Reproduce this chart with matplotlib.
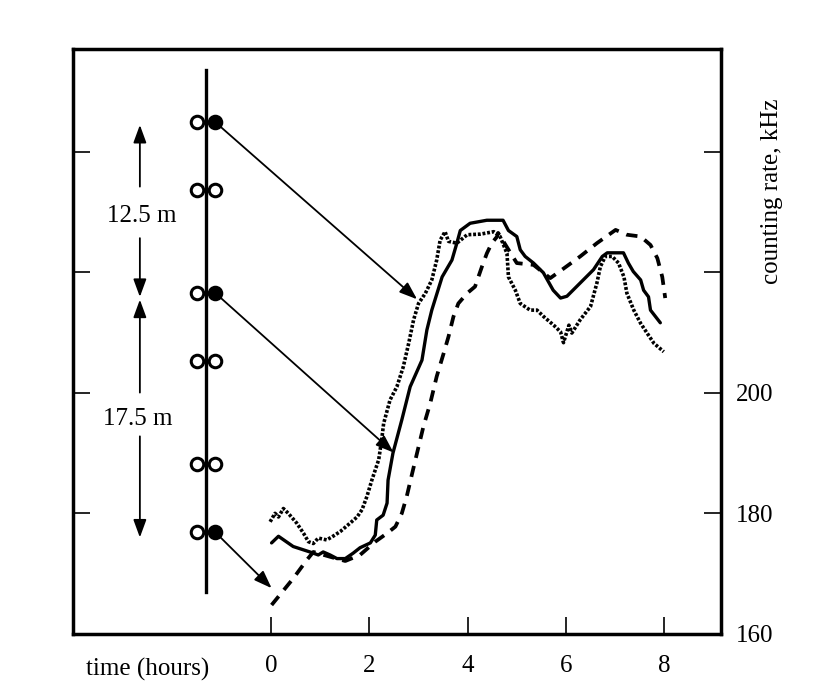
import matplotlib
matplotlib.use("Agg")
import matplotlib.pyplot as plt

plt.rcParams['font.family'] = ['Liberation Serif', 'DejaVu Serif']

# counting rate curves (time in hours, rate in kHz)
solid_t = [0.01, 0.15, 0.45, 0.79, 0.96, 1.06, 1.20, 1.34, 1.51, 1.67, 1.81, 2.02,
           2.12, 2.15, 2.28, 2.36, 2.38, 2.48, 2.66, 2.83, 3.07, 3.17, 3.27, 3.48,
           3.68, 3.78, 3.85, 4.05, 4.39, 4.72, 4.83, 5.00, 5.07, 5.17, 5.34, 5.54,
           5.74, 5.89, 6.02, 6.29, 6.56, 6.74, 6.84, 7.17, 7.27, 7.37, 7.52, 7.58,
           7.68, 7.72, 7.92]
solid_r = [175.1, 176.2, 174.5, 173.6, 173.1, 173.6, 173.1, 172.5, 172.5, 173.4, 174.3, 175.1,
           176.4, 178.9, 179.7, 181.7, 185.5, 190.0, 195.5, 201.0, 205.4, 210.4, 213.7, 219.2,
           222.0, 224.8, 226.9, 228.1, 228.6, 228.6, 226.9, 225.9, 223.7, 222.6, 221.5, 219.9,
           217.0, 215.7, 216.0, 218.2, 220.4, 222.6, 223.2, 223.2, 221.5, 220.1, 218.7, 217.0,
           215.9, 213.7, 211.6]

dotted_t = [-0.02, 0.08, 0.15, 0.25, 0.35, 0.52, 0.66, 0.76, 0.86, 0.96, 1.13, 1.24,
            1.41, 1.61, 1.75, 1.85, 1.95, 2.05, 2.19, 2.25, 2.29, 2.42, 2.56, 2.69,
            2.80, 2.90, 3.00, 3.14, 3.27, 3.37, 3.44, 3.54, 3.61, 3.78, 3.99, 4.26,
            4.53, 4.66, 4.80, 4.83, 4.97, 5.07, 5.27, 5.41, 5.55, 5.75, 5.89, 5.95,
            6.06, 6.12, 6.29, 6.50, 6.63, 6.70, 6.80, 6.94, 7.07, 7.18, 7.24, 7.38,
            7.52, 7.65, 7.79, 7.99]
dotted_r = [178.6, 180.0, 179.4, 180.8, 180.0, 178.4, 176.7, 175.3, 175.0, 175.9, 175.6, 176.1,
            177.0, 178.4, 179.4, 180.6, 182.8, 185.5, 188.9, 192.2, 194.9, 198.8, 201.0, 204.3,
            208.2, 212.1, 214.8, 216.5, 218.7, 222.0, 225.3, 226.7, 225.1, 224.8, 226.2, 226.3,
            226.7, 225.9, 223.1, 219.2, 217.0, 214.8, 213.7, 213.7, 212.6, 211.2, 210.1, 208.3,
            211.2, 209.9, 212.1, 214.3, 218.2, 220.9, 222.6, 222.6, 221.5, 219.2, 216.5, 213.7,
            211.5, 209.9, 208.2, 206.8]

dashed_t = [0.01, 0.18, 0.45, 0.73, 0.86, 1.20, 1.51, 1.81, 2.12, 2.36, 2.53, 2.66,
            2.76, 2.87, 2.97, 3.10, 3.24, 3.37, 3.51, 3.61, 3.71, 3.81, 3.99, 4.15,
            4.29, 4.39, 4.49, 4.60, 4.62, 4.87, 5.00, 5.34, 5.54, 5.68, 5.92, 6.29,
            6.63, 7.01, 7.24, 7.52, 7.72, 7.86, 7.96, 8.02]
dashed_r = [164.8, 166.5, 169.2, 172.3, 173.6, 172.8, 172.1, 173.1, 175.3, 176.7, 177.8, 180.0,
            182.8, 186.6, 190.0, 194.4, 198.3, 202.7, 206.5, 209.3, 212.6, 214.8, 216.5, 217.6,
            220.9, 223.1, 224.8, 225.9, 226.5, 223.2, 221.5, 221.2, 219.9, 219.0, 220.4, 222.6,
            224.8, 227.0, 226.2, 225.9, 224.5, 222.3, 219.2, 215.7]

x_ticks = [0, 2, 4, 6, 8]
y_ticks = [160, 180, 200, 220, 240]
y_ticklabels = ['160', '180', '200', '', '']

# detector string sketch (depth in metres)
pair_depths = [0, 5, 12.5, 17.5, 25, 30]
filled_depths = [0, 12.5, 30]
# arrows from filled detectors to the curve points (hours, kHz)
arrow_targets = [(2.97, 215.5), (2.49, 190.1), (0.01, 167.6)]

fig = plt.figure(figsize=(8.17, 6.85), dpi=100)
ax = fig.add_axes([0.0894, 0.0745, 0.7928, 0.854])

ax.plot(solid_t, solid_r, color='black', lw=2.4, solid_capstyle='round')
ax.plot(dotted_t, dotted_r, color='black', lw=2.6, linestyle=(0, (0.8, 0.5)))
ax.plot(dashed_t, dashed_r, color='black', lw=2.7, linestyle=(0, (3, 2.2)))

ax.set_xlim(-4.03, 9.15)
ax.set_ylim(160, 257.0)
ax.set_xticks(x_ticks)
ax.set_yticks(y_ticks)
ax.set_yticklabels(y_ticklabels)
ax.tick_params(axis='x', direction='in', length=12.5, width=1.2, pad=15, labelsize=18)
ax.tick_params(axis='y', direction='in', length=12.5, width=1.2, pad=11, labelsize=18,
               left=True, right=True, labelleft=False, labelright=True)
for s in ax.spines.values():
    s.set_linewidth(2.5)
    s.set_capstyle('projecting')

ax.text(-2.52, -0.071, 'time (hours)', transform=ax.get_xaxis_transform(),
        ha='center', va='baseline', fontsize=18)
fig.text(772 / 817, 1 - 191 / 685, 'counting rate, kHz', rotation=90,
         ha='center', va='center', fontsize=18)

# overlay for the detector sketch, y in metres of depth
axd = fig.add_axes(ax.get_position(), sharex=ax)
axd.set_ylim(37.46, -5.34)
axd.axis('off')
axd.patch.set_alpha(0)

string_x = -1.33
left_x = -1.50
right_x = -1.14
axd.plot([string_x, string_x], [-3.8, 34.4], color='black', lw=2.4, zorder=2)
for d in pair_depths:
    axd.plot(left_x, d, 'o', ms=9, mfc='white', mec='black', mew=2.2, zorder=3)
    face = 'black' if d in filled_depths else 'white'
    axd.plot(right_x, d, 'o', ms=9, mfc=face, mec='black', mew=2.2, zorder=3)

head = '-|>,head_length=0.6,head_width=0.22'
for d, (t, r) in zip(filled_depths, arrow_targets):
    axd.annotate('', xy=(t, r), xycoords=ax.transData, xytext=(right_x, d),
                 textcoords='data',
                 arrowprops=dict(arrowstyle=head, mutation_scale=18, lw=1.3,
                                 color='black', shrinkA=6, shrinkB=0), zorder=4)

dim_x = -2.67
dim_arrows = [(4.73, 0.22), (8.5, 12.8), (19.8, 13.0), (23.0, 30.4)]
for tail, tip in dim_arrows:
    axd.annotate('', xy=(dim_x, tip), xytext=(dim_x, tail),
                 arrowprops=dict(arrowstyle=head, mutation_scale=18, lw=1.3,
                                 color='black', shrinkA=0, shrinkB=0))
axd.text(-2.63, 7.31, '12.5 m', ha='center', va='baseline', fontsize=18)
axd.text(-2.72, 22.17, '17.5 m', ha='center', va='baseline', fontsize=18)

fig.savefig('out.png', dpi=100)
